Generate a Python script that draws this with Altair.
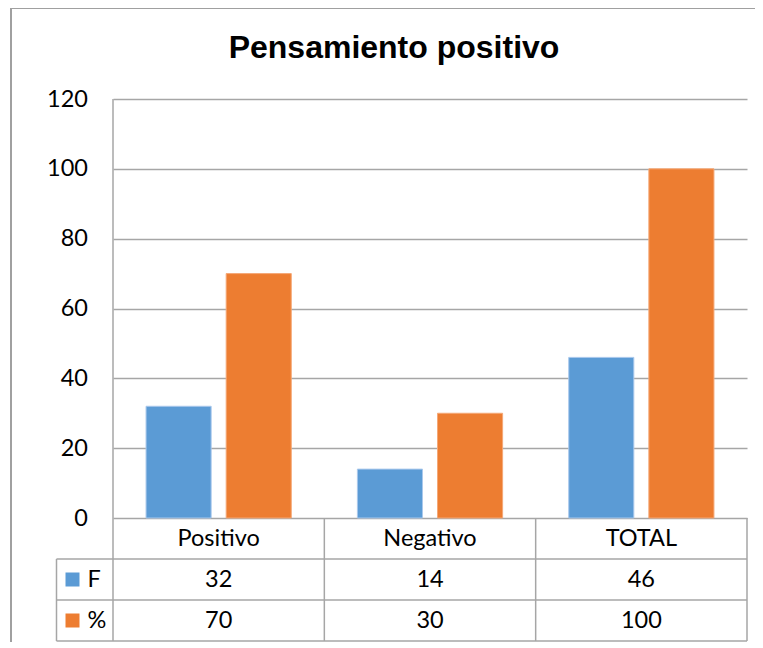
import altair as alt
import pandas as pd

# ---------------- data ----------------
categories = ["Positivo", "Negativo", "TOTAL"]
series = ["F", "%"]
f_values = [32, 14, 46]
pct_values = [70, 30, 100]
colors = ["#5b9bd5", "#ed7d31"]
edge_colors = ["#a9c8ec", "#f5a877"]
y_ticks = [0, 20, 40, 60, 80, 100, 120]
title_text = ["Pensamiento positivo"]

# ---------------- layout (pixels, relative to plot origin) ----------------
W = 634
PLOT_H = 419
ROW_H = 41
H = PLOT_H + 3 * ROW_H
rows = ["cat"] + series
row_range = [PLOT_H + ROW_H / 2, PLOT_H + 2.5 * ROW_H]
KEY_X = -56.5
GRID = "#a6a6a6"
FONT = "Lato"
FS = 23.5
PAD = {"left": 105, "top": 91, "right": 8, "bottom": 1}

bars_df = pd.DataFrame(
    [{"category": c, "series": "F", "value": v} for c, v in zip(categories, f_values)]
    + [{"category": c, "series": "%", "value": v} for c, v in zip(categories, pct_values)]
)

table_df = pd.DataFrame(
    [{"category": c, "row": "cat", "label": c} for c in categories]
    + [{"category": c, "row": "F", "label": str(v)} for c, v in zip(categories, f_values)]
    + [{"category": c, "row": "%", "label": str(v)} for c, v in zip(categories, pct_values)]
)

legend_df = pd.DataFrame({"series": series})
title_df = pd.DataFrame({"title": title_text})

band = W / len(categories)
lines = []
for i in range(len(categories) + 1):
    top = 0 if i == 0 else PLOT_H
    lines.append({"x": i * band, "x2": i * band, "y": top, "y2": H})
lines.append({"x": KEY_X, "x2": KEY_X, "y": PLOT_H + ROW_H, "y2": H})
for k in (1, 2, 3):
    yy = PLOT_H + k * ROW_H
    lines.append({"x": KEY_X, "x2": W, "y": yy, "y2": yy})
lines_df = pd.DataFrame(lines)

x_cat = alt.X("category:N", sort=categories,
              scale=alt.Scale(domain=categories, paddingInner=0, paddingOuter=0),
              axis=None)
y_row = alt.Y("row:N", scale=alt.Scale(type="point", domain=rows, range=row_range, padding=0),
              axis=None)
color_enc = alt.Color("series:N", scale=alt.Scale(domain=series, range=colors), legend=None)
stroke_enc = alt.Stroke("series:N", scale=alt.Scale(domain=series, range=edge_colors), legend=None)

bars = alt.Chart(bars_df).mark_bar(strokeWidth=1).encode(
    x=x_cat,
    xOffset=alt.XOffset("series:N", sort=series,
                        scale=alt.Scale(domain=series, paddingInner=0.1875, paddingOuter=0.4125)),
    y=alt.Y("value:Q",
            scale=alt.Scale(domain=[0, 120], range=[PLOT_H, 0], nice=False),
            axis=alt.Axis(values=y_ticks, grid=True, ticks=False, domain=False,
                          labelFont=FONT, labelFontSize=FS, labelPadding=25.5,
                          labelColor="#000000", gridColor=GRID, gridWidth=1.3,
                          title=None)),
    color=color_enc,
    stroke=stroke_enc,
)

table_text = alt.Chart(table_df).mark_text(
    font=FONT, fontSize=FS, baseline="middle", align="center", color="#000000"
).encode(x=x_cat, y=y_row, text="label:N")

key_squares = alt.Chart(legend_df).mark_square(size=196, opacity=1).encode(
    x=alt.value(-40.5),
    y=alt.Y("series:N", scale=alt.Scale(type="point", domain=rows, range=row_range, padding=0),
            axis=None),
    color=color_enc,
)

key_text = alt.Chart(legend_df).mark_text(
    font=FONT, fontSize=FS, baseline="middle", align="left", color="#000000"
).encode(
    x=alt.value(-25.5),
    y=alt.Y("series:N", scale=alt.Scale(type="point", domain=rows, range=row_range, padding=0),
            axis=None),
    text="series:N",
)

title_mark = alt.Chart(title_df).mark_text(
    font="Liberation Sans", fontSize=32, fontWeight="bold", color="#000000",
    align="center", baseline="alphabetic"
).encode(x=alt.value(281), y=alt.value(-41), text="title:N")

table_lines = alt.Chart(lines_df).mark_rule(color=GRID, strokeWidth=1.5).encode(
    x=alt.X("x:Q", scale=None, axis=None), x2="x2:Q",
    y=alt.Y("y:Q", scale=None, axis=None), y2="y2:Q",
)

# outer chart frame (its right and bottom edges fall outside the page)
frame = alt.Chart(title_df).mark_rect(
    fillOpacity=0, stroke="#a0a0a0", strokeWidth=2
).encode(
    x=alt.value(-102), x2=alt.value(W + 60),
    y=alt.value(-91), y2=alt.value(H + 60),
)

chart = alt.layer(
    frame, table_lines, bars, table_text, key_squares, key_text, title_mark
).resolve_scale(
    x="independent", y="independent"
).properties(
    width=W,
    height=H,
    autosize=alt.AutoSizeParams(type="none"),
    padding=PAD,
    background="white",
).configure_view(stroke=None)

chart.save("out.html", embed_options={"renderer": "svg", "actions": False})
